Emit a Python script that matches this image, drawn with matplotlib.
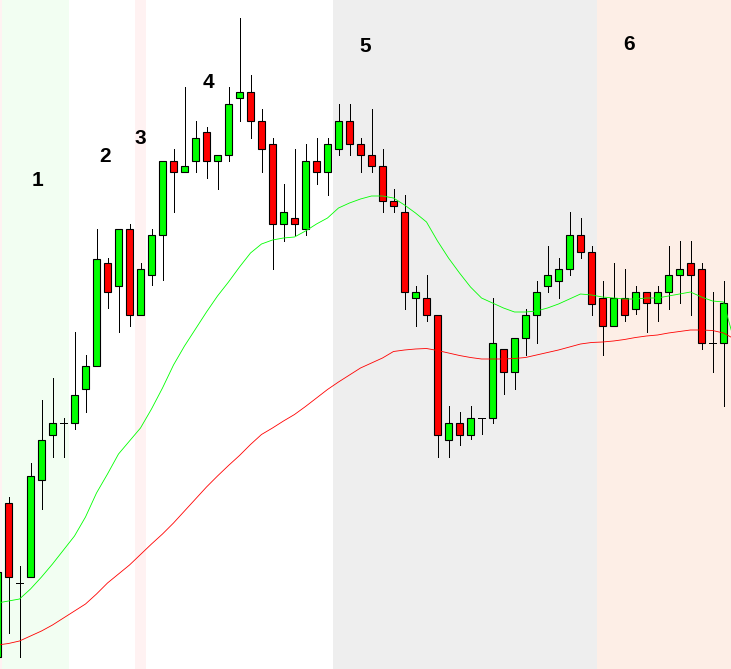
import matplotlib
matplotlib.use("Agg")
import matplotlib.pyplot as plt
import numpy as np

# Candle data (index -1 is the partially visible bar at the left edge)
opens = [12, 166, 86, 92, 189, 234, 246, 246, 280, 303, 406, 383, 440, 354, 394, 434,
         508, 497, 508, 537, 508, 514, 571, 577, 548, 525, 445, 451, 440, 508, 497, 520,
         548, 525, 514, 503, 468, 457, 371, 371, 354, 229, 246, 234, 251, 251, 320, 297,
         331, 354, 383, 388, 400, 434, 417, 371, 343, 371, 360, 377, 366, 377, 394, 406,
         400, 326, 326]
highs = [103, 172, 103, 206, 269, 291, 251, 337, 314, 440, 411, 440, 445, 406, 440, 508,
         520, 582, 548, 542, 514, 582, 651, 594, 560, 531, 485, 520, 525, 531, 531, 565,
         565, 531, 560, 520, 480, 474, 383, 394, 354, 263, 257, 263, 251, 371, 320, 331,
         360, 388, 423, 411, 457, 451, 423, 388, 406, 400, 383, 377, 383, 423, 428, 428,
         406, 377, 388]
lows = [9, 36, 12, 92, 160, 212, 212, 240, 257, 303, 361, 337, 343, 354, 384, 389,
        457, 497, 497, 491, 480, 508, 548, 531, 497, 400, 428, 434, 434, 485, 474, 514,
        514, 497, 497, 457, 457, 360, 343, 348, 212, 212, 224, 230, 235, 246, 275, 280,
        314, 326, 377, 371, 394, 411, 354, 314, 343, 348, 355, 337, 348, 360, 366, 354,
        320, 297, 263]
closes = [97, 92, 86, 193, 229, 246, 246, 274, 303, 410, 377, 440, 354, 400, 434, 508,
          497, 503, 531, 508, 514, 565, 577, 548, 520, 445, 457, 445, 508, 497, 525, 548,
          525, 514, 503, 468, 463, 377, 377, 354, 234, 246, 234, 251, 251, 326, 297, 331,
          354, 377, 394, 400, 434, 417, 365, 343, 371, 354, 377, 366, 377, 394, 400, 394,
          326, 326, 366]

# Moving averages, one value per bar position from -1 to 66
ma_fast = [66, 68, 70, 80, 92, 105, 119, 133, 152, 176, 195, 215, 228, 241, 260, 281,
           304, 323, 340, 357, 373, 387, 402, 416, 425, 429, 431, 432, 438, 445, 451, 461,
           466, 470, 473, 473, 471, 464, 456, 447, 428, 411, 396, 382, 371, 366, 361, 357,
           357, 358, 361, 365, 370, 375, 374, 372, 371, 370, 370, 371, 371, 373, 375, 377,
           372, 368, 367, 327]
ma_slow = [24, 25.5, 28, 33, 38, 44, 51, 58, 65, 75, 86, 95, 104, 114.5, 125, 135,
           146, 158, 170, 182, 193, 203.5, 213.5, 224.5, 234.5, 241, 248, 254.5, 262.5, 271, 279.5, 287,
           294, 301, 306, 311, 317.5, 319, 320, 320.5, 318.5, 316, 313.5, 311.5, 310, 310, 310, 310.5,
           311.5, 314, 316.5, 319, 322, 325, 326.5, 327, 328, 329.5, 331.5, 333, 334, 336,
           337.5, 339, 339, 338.5, 336, 330]

# Background phases: (start bar, end bar, colour)
phase_spans = [(-1.5, -0.55, "#FFF2F2"), (-0.55, 5.5, "#F2FEF2"), (11.5, 12.5, "#FFF2F2"),
               (29.5, 53.5, "#EEEEEE"), (53.5, 66.5, "#FDEEE6")]
phase_labels = ["1", "2", "3", "4", "5", "6"]
label_bar = [2.6, 8.8, 12.0, 18.2, 32.4, 56.4]
label_level = [489, 512, 531, 586, 622, 624]

x0 = -1
xs = np.arange(len(opens)) + x0
o = np.array(opens, float)
h = np.array(highs, float)
l = np.array(lows, float)
c = np.array(closes, float)

fig = plt.figure(figsize=(7.31, 6.69), dpi=100)
ax = fig.add_axes([0, 0, 1, 1])
ax.set_xlim(-8.5 / 11, (731 - 8.5) / 11)
ax.set_ylim(0, 669)
ax.axis("off")

for a, b, col in phase_spans:
    ax.axvspan(a, b, color=col, lw=0, zorder=0)

# wicks
ax.vlines(xs, l, h, color="black", lw=0.72, zorder=2, antialiased=False)

body_w = 0.55
up = c > o
down = c < o
flat = c == o
ax.bar(xs[up], (c - o)[up], bottom=o[up], width=body_w, color="#00FF00",
       edgecolor="black", lw=0.8, zorder=3)
ax.bar(xs[down], (o - c)[down], bottom=c[down], width=body_w, color="#FF0000",
       edgecolor="black", lw=0.8, zorder=3)
ax.hlines(c[flat], xs[flat] - 0.32, xs[flat] + 0.32, color="black", lw=0.72, zorder=3,
          antialiased=False)

ma_x = np.arange(len(ma_fast)) + x0
ax.plot(ma_x, ma_fast, color="#00FF00", lw=0.6, zorder=4)
ax.plot(ma_x, ma_slow, color="#FF0000", lw=0.6, zorder=4)

for txt, bx, lv in zip(phase_labels, label_bar, label_level):
    ax.text(bx, lv, txt, ha="center", va="center", fontsize=15, fontweight="bold",
            family=["Liberation Sans", "DejaVu Sans"], color="black", zorder=5)

fig.savefig("out.png", dpi=100)
